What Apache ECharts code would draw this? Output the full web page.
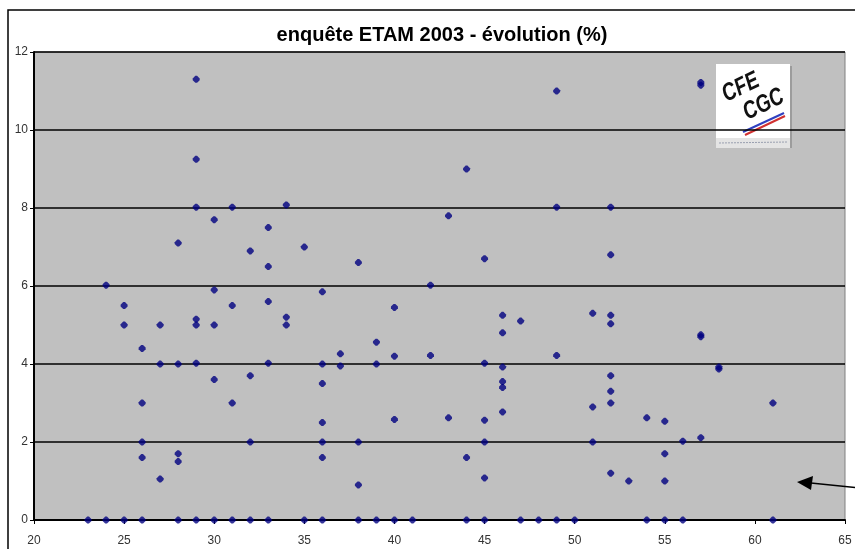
<!DOCTYPE html>
<html><head><meta charset="utf-8">
<script src="https://cdn.jsdelivr.net/npm/echarts@6/dist/echarts.min.js"></script>
<style>html,body{margin:0;padding:0;background:#fff}#c{width:855px;height:549px}</style>
</head><body><div id="c"></div>
<script>
// age (x) and evolution % (y), one entry per point
const ages = [
 23,24,25,26,28,29,30,31,32,33,35,36,38,39,40,41,44,45,47,48,49,50,54,55,56,61,
 24,
 25,25,
 26,26,26,26,
 27,27,27,
 28,28,28,28,
 29,29,29,29,29,29,
 30,30,30,30,
 31,31,31,
 32,32,32,
 33,33,33,33,
 34,34,34,
 35,
 36,36,36,36,36,36,
 37,37,
 38,38,38,
 39,39,
 40,40,40,
 42,42,
 43,43,
 44,44,
 45,45,45,45,45,
 46,46,46,46,46,46,
 47,
 49,49,49,
 51,51,51,
 52,52,52,52,52,52,52,52,
 53,
 54,
 55,55,55,
 56,
 57,57,57,57,57,
 58,58,
 61
];
const evolution = [
 0,0,0,0,0,0,0,0,0,0,0,0,0,0,0,0,0,0,0,0,0,0,0,0,0,0,
 6.02,
 5.5,5.0,
 4.4,3.0,2.0,1.6,
 5.0,4.0,1.05,
 7.1,4.0,1.7,1.5,
 11.3,9.25,8.02,5.15,5.0,4.02,
 7.7,5.9,5.0,3.6,
 8.02,5.5,3.0,
 6.9,3.7,2.0,
 7.5,6.5,5.6,4.02,
 8.08,5.2,5.0,
 7.0,
 5.85,4.0,3.5,2.5,2.0,1.6,
 4.26,3.95,
 6.6,2.0,0.9,
 4.56,4.0,
 5.45,4.2,2.58,
 6.02,4.22,
 7.8,2.62,
 9.0,1.6,
 6.7,4.02,2.56,2.0,1.08,
 5.25,4.8,3.92,3.55,3.4,2.77,
 5.1,
 11.0,8.02,4.22,
 5.3,2.9,2.0,
 8.02,6.8,5.25,5.03,3.7,3.3,3.0,1.2,
 1.0,
 2.62,
 2.53,1.7,1.0,
 2.02,
 11.22,11.15,4.75,4.7,2.11,
 3.92,3.87,
 3.0
];
const xTicks = {min:20, max:65, step:5};
const yTicks = {min:0, max:12, step:2};
const titleText = 'enquête ETAM 2003 - évolution (%)';

const points = ages.map((a,i)=>[a, evolution[i]]);
const font = '"Liberation Sans", Arial, sans-serif';
const logoFont = 'italic bold 19px "Liberation Sans Narrow", "Liberation Sans", Arial';
const chart = echarts.init(document.getElementById('c'), null, {renderer:'canvas'});
chart.setOption({
  animation:false,
  backgroundColor:'#ffffff',
  title:{text:titleText, left:437, top:20, textAlign:'center',
    textStyle:{fontFamily:font, fontSize:20, fontWeight:'bold', color:'#000'}},
  grid:{left:34, right:10, top:52, bottom:29, show:true, backgroundColor:'#c0c0c0', borderColor:'#808080', borderWidth:1},
  xAxis:{type:'value', min:xTicks.min, max:xTicks.max, interval:xTicks.step,
    axisLine:{show:true, onZero:false, lineStyle:{color:'#000', width:2}},
    axisTick:{show:true, length:4, lineStyle:{color:'#000'}},
    axisLabel:{margin:15, fontFamily:font, fontSize:12, color:'#333'},
    splitLine:{show:false}},
  yAxis:{type:'value', min:yTicks.min, max:yTicks.max, interval:yTicks.step,
    axisLine:{show:true, lineStyle:{color:'#000', width:2}},
    axisTick:{show:true, length:4, lineStyle:{color:'#000'}},
    axisLabel:{margin:6, fontFamily:font, fontSize:12, color:'#333'},
    splitLine:{show:true, lineStyle:{color:'#000', width:1.5}}},
  series:[{type:'scatter', data:points,
    symbol:'path://M-1,-4 L1,-4 L4,-1 L4,1 L1,4 L-1,4 L-4,1 L-4,-1 Z', symbolSize:7,
    itemStyle:{color:'#000080'}}],
  graphic:[
    {type:'rect', shape:{x:8, y:10, width:880, height:600}, style:{fill:null, stroke:'#000', lineWidth:1.5}, silent:true, z:100},
    // logo
    {type:'group', x:716, y:64, z:50, children:[
      {type:'rect', shape:{x:0,y:0,width:74,height:84}, style:{fill:'#ffffff'}},
      {type:'line', shape:{x1:75,y1:2,x2:75,y2:84}, style:{stroke:'#909090', lineWidth:1.5}},
      {type:'rect', shape:{x:0,y:74,width:74,height:10}, style:{fill:'#e4e4e4'}},
      {type:'text', x:13, y:43, rotation:0.45, scaleY:1.3, style:{text:'CFE', font:logoFont, fill:'#111', verticalAlign:'bottom'}},
      {type:'text', x:34, y:61, rotation:0.45, scaleY:1.3, style:{text:'CGC', font:logoFont, fill:'#111', verticalAlign:'bottom'}},
      {type:'line', shape:{x1:27,y1:68,x2:68,y2:49}, style:{stroke:'#3040c0', lineWidth:2}},
      {type:'line', shape:{x1:29,y1:71,x2:69,y2:52}, style:{stroke:'#d03030', lineWidth:2}},
      {type:'line', shape:{x1:3,y1:79,x2:72,y2:78}, style:{stroke:'#9aa0b0', lineWidth:1, lineDash:[2,1]}}
    ]},
    // arrow
    {type:'line', shape:{x1:860,y1:488,x2:806,y2:482.5}, style:{stroke:'#000', lineWidth:1.5}, z:60},
    {type:'polygon', shape:{points:[[797,482],[813,476],[811,490]]}, style:{fill:'#000'}, z:60}
  ]
});
</script></body></html>
